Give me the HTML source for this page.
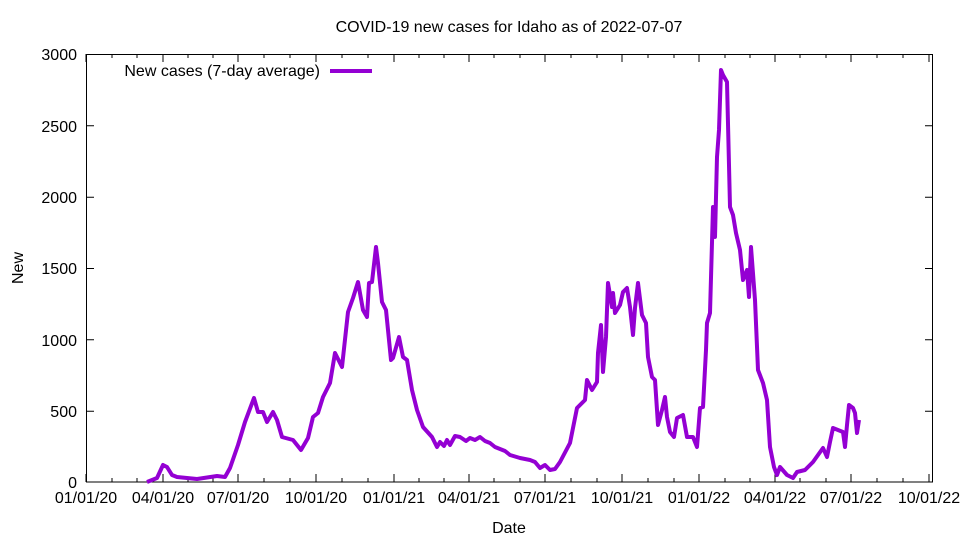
<!DOCTYPE html>
<html><head><meta charset="utf-8"><style>body{margin:0;background:#fff}svg{display:block}</style></head><body>
<svg width="960" height="540" xmlns="http://www.w3.org/2000/svg" font-family="Liberation Sans, sans-serif" font-size="16">
<text x="509" y="32" text-anchor="middle">COVID-19 new cases for Idaho as of 2022-07-07</text>
<g stroke="#000" stroke-width="1">
<rect x="86.5" y="54.5" width="846" height="427.5" fill="none"/>
<path d="M86 411.2h8M86 339.8h8M86 268.5h8M86 197.2h8M86 125.8h8M933 411.2h-8M933 339.8h-8M933 268.5h-8M933 197.2h-8M933 125.8h-8"/>
<path d="M86 482v-8M163 482v-8M238 482v-8M316 482v-8M394 482v-8M469 482v-8M545 482v-8M622 482v-8M699 482v-8M775 482v-8M851 482v-8M929 482v-8
M86 54v8M163 54v8M238 54v8M316 54v8M394 54v8M469 54v8M545 54v8M622 54v8M699 54v8M775 54v8M851 54v8M929 54v8
M112 482v-4M137 482v-4M188 482v-4M213 482v-4M264 482v-4M290 482v-4M342 482v-4M368 482v-4M419 482v-4M444 482v-4M494 482v-4M520 482v-4M571 482v-4M597 482v-4M648 482v-4M674 482v-4M725 482v-4M750 482v-4M800 482v-4M826 482v-4M877 482v-4M903 482v-4
M112 54v4M137 54v4M188 54v4M213 54v4M264 54v4M290 54v4M342 54v4M368 54v4M419 54v4M444 54v4M494 54v4M520 54v4M571 54v4M597 54v4M648 54v4M674 54v4M725 54v4M750 54v4M800 54v4M826 54v4M877 54v4M903 54v4"/>
</g>
<g text-anchor="end">
<text x="77" y="488">0</text><text x="77" y="417">500</text><text x="77" y="346">1000</text><text x="77" y="274">1500</text><text x="77" y="203">2000</text><text x="77" y="132">2500</text><text x="77" y="60">3000</text>
</g>
<g text-anchor="middle">
<text x="86" y="503">01/01/20</text><text x="163" y="503">04/01/20</text><text x="238" y="503">07/01/20</text><text x="316" y="503">10/01/20</text><text x="394" y="503">01/01/21</text><text x="469" y="503">04/01/21</text><text x="545" y="503">07/01/21</text><text x="622" y="503">10/01/21</text><text x="699" y="503">01/01/22</text><text x="775" y="503">04/01/22</text><text x="851" y="503">07/01/22</text><text x="929" y="503">10/01/22</text>
<text x="509" y="533">Date</text>
</g>
<text transform="translate(23,268) rotate(-90)" text-anchor="middle">New</text>
<text x="320" y="76" text-anchor="end">New cases (7-day average)</text>
<line x1="330" y1="71" x2="372" y2="71" stroke="#9400d3" stroke-width="4"/>
<polyline fill="none" stroke="#9400d3" stroke-width="4" stroke-linejoin="round" points="147,482 157,478 163,465 167,467 172,475 177,477 197,479 217,476 225,477 230,468 238,445 245,422 254,398 258,412 263,412 267,422 273,412 277,420 282,437 293,440 301,450 308,438 313,417 318,413 323,397 330,383 335,353 342,367 348,312 353,298 358,282 363,310 367,317 369,283 372,282 376,247 378,263 382,302 386,310 391,360 393,358 399,337 403,357 407,360 412,390 417,410 423,427 432,437 437,447 440,442 444,446 447,440 450,445 455,436 460,437 466,441 470,438 475,440 480,437 485,441 490,443 495,447 500,449 505,451 510,455 520,458 530,460 535,462 540,468 545,465 550,470 555,469 560,462 570,443 577,408 585,400 587,380 592,390 597,382 598,353 601,325 603,372 606,337 608,283 612,307 613,293 615,313 620,305 623,292 627,288 630,307 633,335 635,308 638,283 642,315 646,323 648,357 652,377 655,380 658,425 662,410 665,397 667,417 670,432 674,437 677,418 683,415 687,437 693,437 697,447 700,408 703,407 706,350 707,323 710,313 713,207 715,237 717,157 719,130 721,70 723,75 727,82 730,207 733,215 736,233 740,250 743,280 747,270 749,297 751,247 755,300 758,370 763,383 767,400 770,447 774,467 777,475 780,467 787,475 793,478 797,472 805,470 813,462 823,448 827,457 830,442 833,428 838,430 843,432 845,447 847,425 849,405 853,408 855,413 857,433 859,420"/>
</svg>
</body></html>
